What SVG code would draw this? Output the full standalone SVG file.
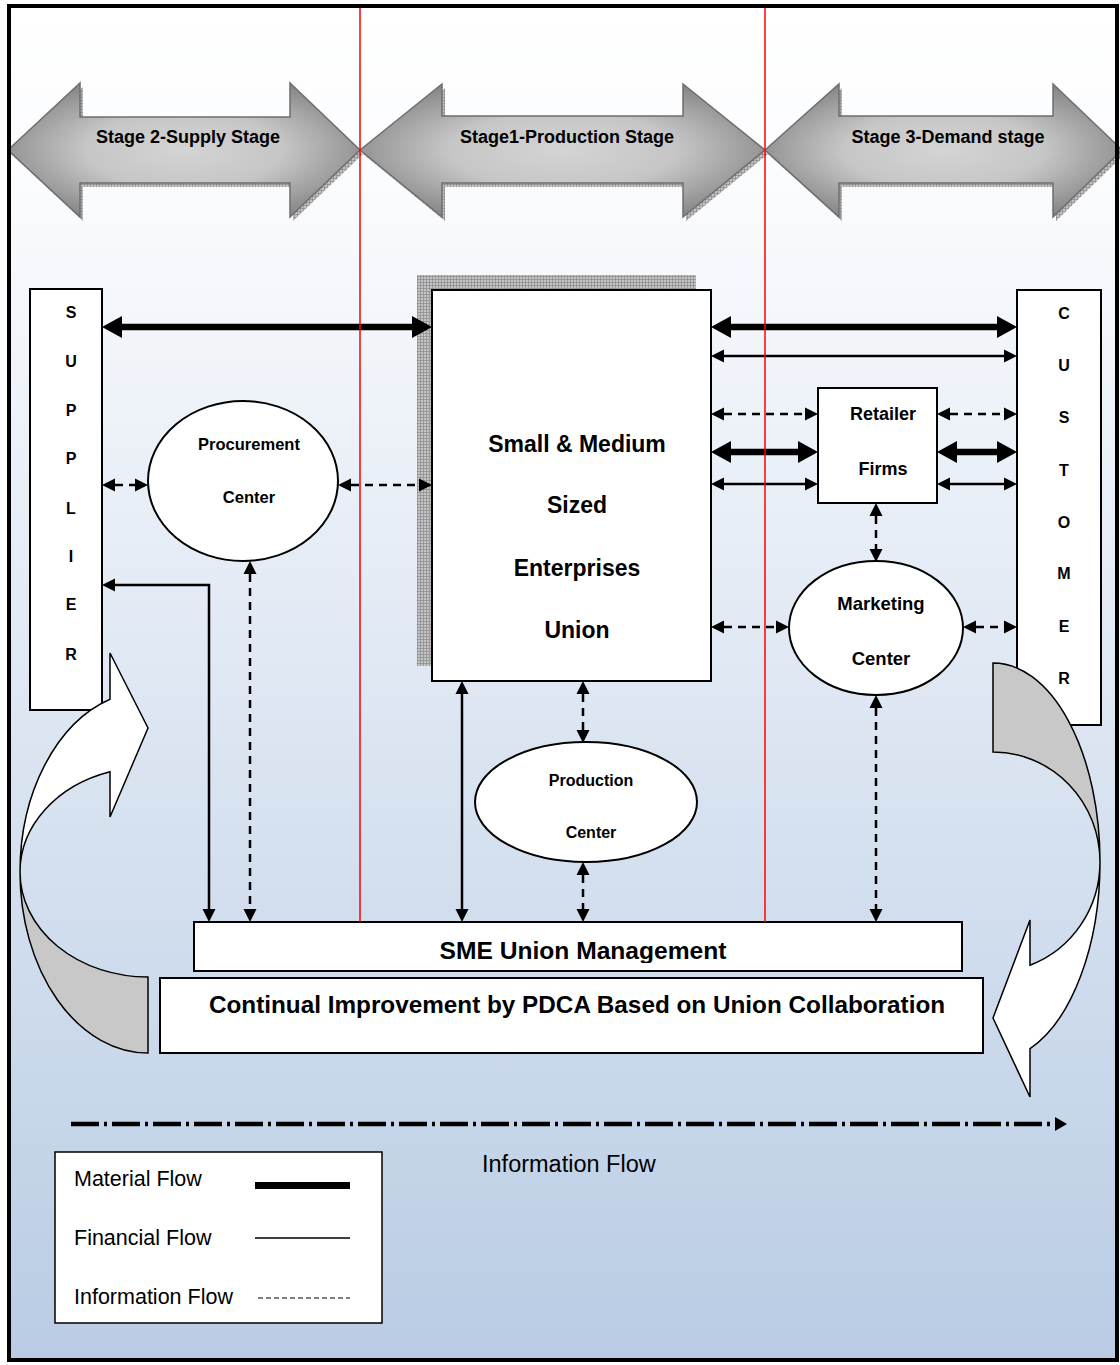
<svg xmlns="http://www.w3.org/2000/svg" width="1120" height="1365" viewBox="0 0 1120 1365">
<style>
.box{fill:#fff;stroke:#000;stroke-width:2}
.lbl{font-family:"Liberation Sans",Arial,sans-serif;font-weight:bold;text-anchor:middle;fill:#000}
.reg{font-family:"Liberation Sans",Arial,sans-serif;fill:#000}
.stage{fill:url(#stageGrad);stroke:#6e6e6e;stroke-width:1.5}
.shadow{fill:url(#hatch);stroke:none}
.mat{fill:none;stroke:#000;stroke-width:6.5;marker-start:url(#mHead);marker-end:url(#mHead)}
.fin{fill:none;stroke:#000;stroke-width:2.5;marker-start:url(#fHead);marker-end:url(#fHead)}
.inf{fill:none;stroke:#000;stroke-width:2.5;stroke-dasharray:8 6;marker-start:url(#iHead);marker-end:url(#iHead)}
.curve{stroke:#000;stroke-width:1.5}
.red{stroke:#ff0000;stroke-width:1.5}
</style>
<defs>
<linearGradient id="bg" x1="0" y1="0" x2="0" y2="1">
<stop offset="0" stop-color="#ffffff"/>
<stop offset="0.12" stop-color="#fbfcfe"/>
<stop offset="1" stop-color="#b9cce4"/>
</linearGradient>
<radialGradient id="stageGrad" cx="0.5" cy="0.5" r="0.62">
<stop offset="0" stop-color="#d4d4d4"/>
<stop offset="0.45" stop-color="#c6c6c6"/>
<stop offset="1" stop-color="#7a7a7a"/>
</radialGradient>
<pattern id="hatch" width="3" height="3" patternUnits="userSpaceOnUse">
<rect width="3" height="3" fill="#c4c4c4"/>
<path d="M0,0.5H3M0.5,0V3" stroke="#8a8a8a" stroke-width="0.7"/>
</pattern>
<marker id="mHead" markerUnits="userSpaceOnUse" orient="auto-start-reverse" refX="0" refY="0" markerWidth="30" markerHeight="30" overflow="visible">
<path d="M0,-11L20,0L0,11Z" fill="#000"/>
</marker>
<marker id="fHead" markerUnits="userSpaceOnUse" orient="auto-start-reverse" refX="0" refY="0" markerWidth="20" markerHeight="20" overflow="visible">
<path d="M0,-6.5L13,0L0,6.5Z" fill="#000"/>
</marker>
<marker id="iHead" markerUnits="userSpaceOnUse" orient="auto-start-reverse" refX="0" refY="0" markerWidth="20" markerHeight="20" overflow="visible">
<path d="M0,-6.5L13,0L0,6.5Z" fill="#000"/>
</marker>
<marker id="dHead" markerUnits="userSpaceOnUse" orient="auto" refX="0" refY="0" markerWidth="20" markerHeight="20" overflow="visible">
<path d="M0,-7L12,0L0,7Z" fill="#000"/>
</marker>
<clipPath id="mgmtClip"><rect x="194" y="922" width="768" height="41"/></clipPath>
</defs>

<rect x="0" y="0" width="1120" height="1365" fill="#ffffff"/>
<rect x="9" y="6" width="1108" height="1354" fill="url(#bg)"/>

<g id="stage2">
<path class="shadow" transform="translate(3,4)" d="M8,150L80,83L80,117L290,117L290,83L360,150L290,217L290,183L80,183L80,217Z"/>
<path class="stage" d="M8,150L80,83L80,117L290,117L290,83L360,150L290,217L290,183L80,183L80,217Z"/>
<text class="lbl" x="188" y="143" font-size="18">Stage 2-Supply Stage</text>
</g>
<g id="stage1">
<path class="shadow" transform="translate(3,4)" d="M360,150L442,84L442,116L683,116L683,84L765,150L683,217L683,183L442,183L442,217Z"/>
<path class="stage" d="M360,150L442,84L442,116L683,116L683,84L765,150L683,217L683,183L442,183L442,217Z"/>
<text class="lbl" x="567" y="143" font-size="18">Stage1-Production Stage</text>
</g>
<g id="stage3">
<path class="shadow" transform="translate(3,4)" d="M765,150L839,84L839,116L1053,116L1053,84L1122,150L1053,217L1053,183L839,183L839,217Z"/>
<path class="stage" d="M765,150L839,84L839,116L1053,116L1053,84L1122,150L1053,217L1053,183L839,183L839,217Z"/>
<text class="lbl" x="948" y="143" font-size="18">Stage 3-Demand stage</text>
</g>

<g id="supplier">
<rect class="box" x="30" y="289" width="72" height="421" stroke-width="1.5"/>
<g class="lbl" font-size="16">
<text x="71" y="318">S</text><text x="71" y="367">U</text><text x="71" y="416">P</text><text x="71" y="464">P</text>
<text x="71" y="514">L</text><text x="71" y="562">I</text><text x="71" y="610">E</text><text x="71" y="660">R</text>
</g>
</g>

<g id="customer">
<rect class="box" x="1017" y="290" width="84" height="435" stroke-width="1.5"/>
<g class="lbl" font-size="16">
<text x="1064" y="319">C</text><text x="1064" y="371">U</text><text x="1064" y="423">S</text><text x="1064" y="476">T</text>
<text x="1064" y="528">O</text><text x="1064" y="579">M</text><text x="1064" y="632">E</text><text x="1064" y="684">R</text>
</g>
</g>

<g id="sme">
<rect class="shadow" x="417" y="275" width="279" height="391"/>
<rect class="box" x="432" y="290" width="279" height="391"/>
<g class="lbl" font-size="23">
<text x="577" y="452">Small &amp; Medium</text>
<text x="577" y="513">Sized</text>
<text x="577" y="576">Enterprises</text>
<text x="577" y="638">Union</text>
</g>
</g>

<g id="procurement">
<ellipse class="box" cx="243" cy="481" rx="95" ry="80"/>
<text class="lbl" x="249" y="450" font-size="16.5">Procurement</text>
<text class="lbl" x="249" y="503" font-size="16.5">Center</text>
</g>

<g id="retailer">
<rect class="box" x="818" y="388" width="119" height="115" stroke-width="1.5"/>
<text class="lbl" x="883" y="420" font-size="18">Retailer</text>
<text class="lbl" x="883" y="475" font-size="18">Firms</text>
</g>

<g id="marketing">
<ellipse class="box" cx="876" cy="628" rx="87" ry="67"/>
<text class="lbl" x="881" y="610" font-size="18.5">Marketing</text>
<text class="lbl" x="881" y="665" font-size="18.5">Center</text>
</g>

<g id="production">
<ellipse class="box" cx="586" cy="802" rx="111" ry="60"/>
<text class="lbl" x="591" y="786" font-size="16">Production</text>
<text class="lbl" x="591" y="838" font-size="16">Center</text>
</g>

<g id="union-management">
<rect class="box" x="194" y="922" width="768" height="49" stroke-width="1.5"/>
<text class="lbl" x="583" y="959" font-size="24.6" clip-path="url(#mgmtClip)">SME Union Management</text>
</g>

<g id="continual-improvement">
<rect class="box" x="160" y="978" width="823" height="75" stroke-width="1.5"/>
<text class="lbl" x="577" y="1013" font-size="24.3">Continual Improvement by PDCA Based on Union Collaboration</text>
</g>

<g id="connectors">
<path class="mat" d="M122,327H412"/>
<path class="mat" d="M731,327H997"/>
<path class="mat" d="M731,452H798"/>
<path class="mat" d="M957,452H997"/>
<path class="fin" d="M724,356H1004"/>
<path class="fin" d="M724,484H805"/>
<path class="fin" d="M950,484H1004"/>
<path class="fin" d="M115,585H209V909"/>
<path class="fin" d="M462,694V909"/>
<path class="inf" d="M115,485H135"/>
<path class="inf" d="M351,485H419"/>
<path class="inf" d="M250,574V909"/>
<path class="inf" d="M724,414H805"/>
<path class="inf" d="M950,414H1004"/>
<path class="inf" d="M876,516V549"/>
<path class="inf" d="M724,627H776"/>
<path class="inf" d="M976,627H1004"/>
<path class="inf" d="M876,708V909"/>
<path class="inf" d="M583,694V730"/>
<path class="inf" d="M583,875V909"/>
</g>

<g id="cycle-left">
<path class="curve" fill="#ffffff" d="M110,699.2A128,181 0 0 0 20,872A128,105 0 0 1 110,771.7L110,817L148,728L110,653Z"/>
<path class="curve" fill="#c8c8c8" d="M20,872A128,181 0 0 0 148,1053L148,977A128,105 0 0 1 20,872Z"/>
</g>
<g id="cycle-right">
<path class="curve" fill="#c8c8c8" d="M993,663A107,199 0 0 1 1100,862A107,110 0 0 0 993,752Z"/>
<path class="curve" fill="#ffffff" d="M1100,862A107,199 0 0 1 1030,1048.7L1030,1097L993,1018L1030,920L1030,965.2A107,110 0 0 0 1100,862Z"/>
</g>

<g id="stage-dividers">
<line class="red" x1="360" y1="6" x2="360" y2="922"/>
<line class="red" x1="765" y1="6" x2="765" y2="922"/>
</g>

<g id="info-flow-line">
<path d="M71,1124H1055" fill="none" stroke="#000" stroke-width="4.5" stroke-dasharray="28 5 3 5" marker-end="url(#dHead)"/>
<text class="reg" x="482" y="1172" font-size="23.5">Information Flow</text>
</g>

<g id="legend">
<rect x="55" y="1152" width="327" height="171" fill="#fff" stroke="#000" stroke-width="1.5"/>
<text class="reg" x="74" y="1186" font-size="21.5">Material Flow</text>
<line x1="255" y1="1185.5" x2="350" y2="1185.5" stroke="#000" stroke-width="7"/>
<text class="reg" x="74" y="1245" font-size="21.5">Financial Flow</text>
<line x1="255" y1="1238" x2="350" y2="1238" stroke="#000" stroke-width="1.5"/>
<text class="reg" x="74" y="1304" font-size="21.5">Information Flow</text>
<line x1="258" y1="1298" x2="350" y2="1298" stroke="#000" stroke-width="1.2" stroke-dasharray="5 3"/>
</g>

<rect x="9" y="6" width="1108" height="1354" fill="none" stroke="#000" stroke-width="4"/>
</svg>
